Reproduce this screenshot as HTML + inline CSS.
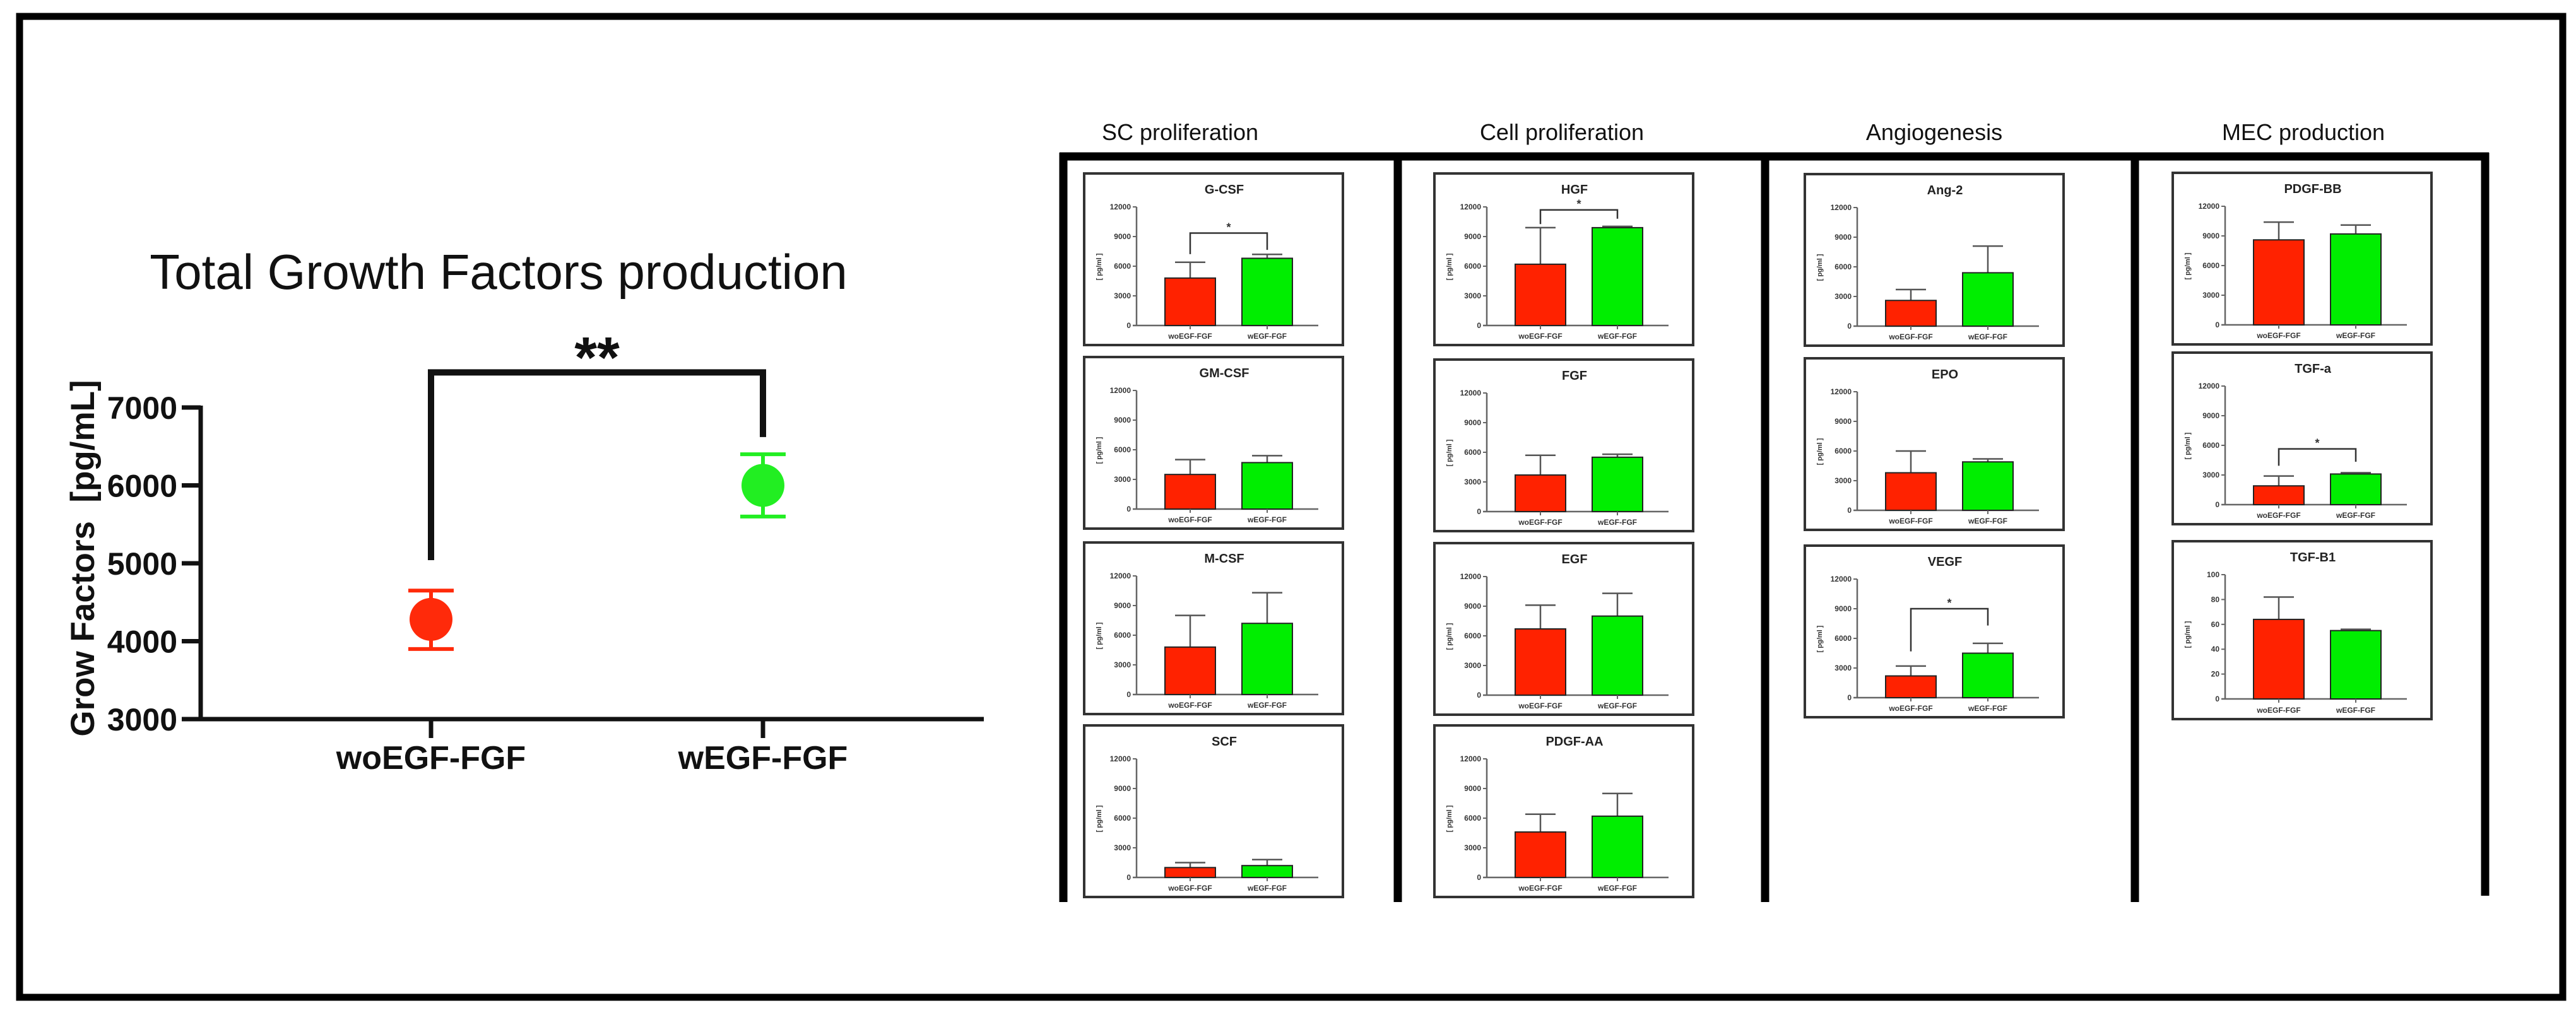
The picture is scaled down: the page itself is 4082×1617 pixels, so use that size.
<!DOCTYPE html>
<html><head><meta charset="utf-8"><style>
html,body{margin:0;padding:0;background:#fff;}
svg{display:block;font-family:"Liberation Sans",sans-serif;}
</style></head><body>
<svg id="fig" width="4082" height="1617" viewBox="0 0 4082 1617" xmlns="http://www.w3.org/2000/svg">
<rect x="31" y="26" width="4030" height="1555" fill="none" stroke="#000" stroke-width="11"/>
<g id="main"></g>
<g id="frame"></g>
<g id="panels"></g>
</svg>
<script>
// ---- main chart data ----
const mainCategories = ["woEGF-FGF", "wEGF-FGF"];
const mainMeans = [4280, 6000];
const mainLow = [3900, 5600];
const mainHigh = [4650, 6400];
const mainTicks = [3000, 4000, 5000, 6000, 7000];
const mainBracket = [7450, 5040, 6620];

// ---- panel data ----
const panelNames = ["G-CSF","GM-CSF","M-CSF","SCF","HGF","FGF","EGF","PDGF-AA","Ang-2","EPO","VEGF","PDGF-BB","TGF-a","TGF-B1"];
const panelCol = [0,0,0,0,1,1,1,1,2,2,2,3,3,3];
const panelRow = [0,1,2,3,0,1,2,3,0,1,2,0,1,2];
const redMeans = [4800,3500,4800,1000,6200,3700,6700,4600,2600,3800,2200,8600,1900,64];
const redErr = [6400,5000,8000,1500,9900,5700,9100,6400,3700,6000,3200,10400,2900,82];
const greenMeans = [6800,4700,7200,1200,9900,5500,8000,6200,5400,4900,4500,9200,3100,55];
const greenErr = [7200,5400,10300,1800,9900,5800,10300,8500,8100,5200,5500,10100,3100,55];
const panelMax = [12000,12000,12000,12000,12000,12000,12000,12000,12000,12000,12000,12000,12000,100];
const panelTickStep = [3000,3000,3000,3000,3000,3000,3000,3000,3000,3000,3000,3000,3000,20];
// significance brackets: panel index, top, left end, right end
const sigPanels = [0, 4, 10, 12];
const sigTop = [9350, 11700, 9000, 5640];
const sigLeft = [7220, 10260, 4680, 3930];
const sigRight = [7650, 10800, 7300, 4340];
const sectionTitles = ["SC proliferation","Cell proliferation","Angiogenesis","MEC production"];

const NS = "http://www.w3.org/2000/svg";
function mk(parent, tag, attrs, text){
  const e = document.createElementNS(NS, tag);
  for (const k in attrs) e.setAttribute(k, attrs[k]);
  if (text !== undefined) e.textContent = text;
  parent.appendChild(e);
  return e;
}

// ---------- main chart ----------
const main = document.getElementById('main');
const axX = 318, yBot = 1140, yTopPx = 646, xEnd = 1559;
const catX = [683, 1209];
function my(v){ return yBot - (v - mainTicks[0]) / (mainTicks[mainTicks.length-1] - mainTicks[0]) * (yBot - yTopPx); }

let t = mk(main,'text',{x:790,y:458,'font-size':78,'text-anchor':'middle',fill:'#111'},"Total Growth Factors production");



let l = mk(main,'line',{x1:axX,y1:my(mainTicks[mainTicks.length-1])-3,x2:axX,y2:yBot,stroke:'#111','stroke-width':7});


l = mk(main,'line',{x1:axX-30,y1:yBot,x2:xEnd,y2:yBot,stroke:'#111','stroke-width':7});



mainTicks.forEach(v=>{
  const tk = mk(main,'line',{x1:axX-30,y1:my(v),x2:axX,y2:my(v),stroke:'#111','stroke-width':7});
  
  
  const tl = mk(main,'text',{x:281,y:my(v)+18,'font-size':50,'font-weight':'bold','text-anchor':'end',fill:'#111'},String(v));
  
  
});

const yt = mk(main,'text',{x:0,y:0,'font-size':53,'font-weight':'bold','text-anchor':'middle',fill:'#111',transform:'translate(149,885) rotate(-90)'},"Grow Factors\u00a0\u00a0[pg/mL]");



const cols = ['#ff2a0a','#22ee22'];
mainCategories.forEach((c,i)=>{
  const tk = mk(main,'line',{x1:catX[i],y1:yBot,x2:catX[i],y2:yBot+30,stroke:'#111','stroke-width':7});
  
  
  const cl = mk(main,'text',{x:catX[i],y:1219,'font-size':52,'font-weight':'bold','text-anchor':'middle',fill:'#111'},c);
  
  
  const g = mk(main,'g',{});
  
  
  mk(g,'line',{x1:catX[i],y1:my(mainLow[i]),x2:catX[i],y2:my(mainHigh[i]),stroke:cols[i],'stroke-width':6});
  mk(g,'line',{x1:catX[i]-36,y1:my(mainLow[i]),x2:catX[i]+36,y2:my(mainLow[i]),stroke:cols[i],'stroke-width':6});
  mk(g,'line',{x1:catX[i]-36,y1:my(mainHigh[i]),x2:catX[i]+36,y2:my(mainHigh[i]),stroke:cols[i],'stroke-width':6});
  mk(g,'circle',{cx:catX[i],cy:my(mainMeans[i]),r:34,fill:cols[i]});
});
const br = mk(main,'path',{d:`M${catX[0]},${my(mainBracket[1])} L${catX[0]},${my(mainBracket[0])} L${catX[1]},${my(mainBracket[0])} L${catX[1]},${my(mainBracket[2])}`,fill:'none',stroke:'#111','stroke-width':10});


const st = mk(main,'text',{x:(catX[0]+catX[1])/2,y:my(mainBracket[0])+8,'font-size':92,'font-weight':'bold','text-anchor':'middle',fill:'#111'},"**");



// ---------- frame ----------
const frame = document.getElementById('frame');
mk(frame,'line',{x1:1679,y1:248,x2:3944,y2:248,stroke:'#000','stroke-width':13});
const vX = [1685, 2215, 2797, 3383, 3938];
vX.forEach((x,i)=>{
  const v = mk(frame,'line',{x1:x,y1:242,x2:x,y2:i===4?1420:1430,stroke:'#000','stroke-width':13});
  
  
});
const titleX = [1870, 2475, 3065, 3650];
sectionTitles.forEach((s,i)=>{
  const e = mk(frame,'text',{x:titleX[i],y:222,'font-size':36,'text-anchor':'middle',fill:'#111'},s);
  
  
});

// ---------- panels ----------
const panels = document.getElementById('panels');
const colLeft = [1718, 2273, 2860, 3443];
const rowTops = [[275,566,860,1150],[275,570,861,1150],[276,568,865],[274,559,858]];

panelNames.forEach((name,i)=>{
  const bx = colLeft[panelCol[i]], by = rowTops[panelCol[i]][panelRow[i]];
  const w = 410, h = (i===13) ? 282 : 272;
  const g = mk(panels,'g',{});
  
  
  mk(g,'rect',{x:bx,y:by,width:w,height:h,fill:'#fff',stroke:'#333','stroke-width':4});
  mk(g,'text',{x:bx+222,y:by+32,'font-size':20,'font-weight':'bold','text-anchor':'middle',fill:'#222'},name);
  const y0 = by + (i===13 ? 250 : 241), yT = by + 53;
  const ymax = panelMax[i];
  const py = v => y0 - v / ymax * (y0 - yT);
  const ax = bx + 83;
  mk(g,'line',{x1:ax,y1:yT,x2:ax,y2:y0,stroke:'#666','stroke-width':2.5});
  mk(g,'line',{x1:ax-6,y1:y0,x2:bx+371,y2:y0,stroke:'#666','stroke-width':2.5});
  for (let v=0; v<=ymax; v+=panelTickStep[i]){
    mk(g,'line',{x1:ax-6,y1:py(v),x2:ax,y2:py(v),stroke:'#666','stroke-width':2});
    mk(g,'text',{x:ax-9,y:py(v)+4,'font-size':12,'font-weight':'bold','text-anchor':'end',fill:'#333'},String(v));
  }
  mk(g,'text',{x:0,y:0,'font-size':11,'font-weight':'bold','text-anchor':'middle',fill:'#333',transform:`translate(${bx+27},${by+148}) rotate(-90)`},"[ pg/ml ]");
  const cx = [bx+168, bx+290];
  const means = [redMeans[i], greenMeans[i]], errs = [redErr[i], greenErr[i]];
  const fills = ['#ff2200','#00ee00'];
  const labs = ["woEGF-FGF","wEGF-FGF"];
  for (let k=0;k<2;k++){
    if (errs[k] > means[k]){
      mk(g,'line',{x1:cx[k],y1:py(means[k]),x2:cx[k],y2:py(errs[k]),stroke:'#555','stroke-width':2.5});
      mk(g,'line',{x1:cx[k]-24,y1:py(errs[k]),x2:cx[k]+24,y2:py(errs[k]),stroke:'#555','stroke-width':2.5});
    } else {
      mk(g,'line',{x1:cx[k]-24,y1:py(means[k])-2,x2:cx[k]+24,y2:py(means[k])-2,stroke:'#555','stroke-width':2.5});
    }
    const b = mk(g,'rect',{x:cx[k]-40,y:py(means[k]),width:80,height:y0-py(means[k]),fill:fills[k],stroke:'#222','stroke-width':2});
    
    
    mk(g,'line',{x1:cx[k],y1:y0,x2:cx[k],y2:y0+6,stroke:'#666','stroke-width':2});
    mk(g,'text',{x:cx[k],y:by+h-10,'font-size':12,'font-weight':'bold','text-anchor':'middle',fill:'#333'},labs[k]);
  }
  const si = sigPanels.indexOf(i);
  if (si >= 0){
    const p = mk(g,'path',{d:`M${cx[0]},${py(sigLeft[si])} L${cx[0]},${py(sigTop[si])} L${cx[1]},${py(sigTop[si])} L${cx[1]},${py(sigRight[si])}`,fill:'none',stroke:'#333','stroke-width':2.5});
    
    
    mk(g,'text',{x:(cx[0]+cx[1])/2,y:py(sigTop[si])-3,'font-size':18,'font-weight':'bold','text-anchor':'middle',fill:'#333'},"*");
  }
});
</script>
</body></html>
